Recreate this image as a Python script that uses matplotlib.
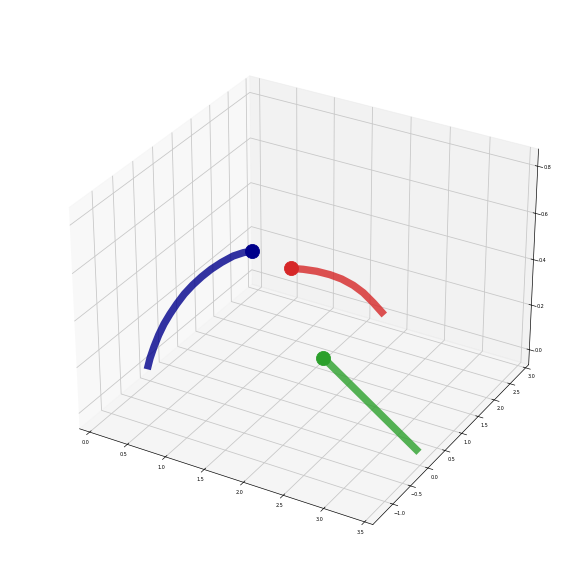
import matplotlib
matplotlib.use("Agg")
import matplotlib.pyplot as plt

blue_x = [0.016, 0.049, 0.087, 0.131, 0.190, 0.268, 0.326, 0.392, 0.478, 0.579, 0.665, 0.769, 0.890, 1.031, 1.148]
blue_y = [-0.096, -0.078, -0.038, 0.008, 0.041, 0.054, 0.123, 0.197, 0.253, 0.295, 0.371, 0.447, 0.512, 0.492, 0.478]
blue_z = [0.0, 0.05, 0.1, 0.15, 0.2, 0.25, 0.29, 0.33, 0.37, 0.41, 0.44, 0.47, 0.5, 0.53, 0.55]
red_x = [1.772, 1.716, 1.650, 1.565, 1.478, 1.388, 1.267, 1.163, 1.055]
red_y = [2.920, 2.705, 2.549, 2.439, 2.288, 2.143, 2.020, 1.861, 1.742]
red_z = [0.0, 0.08, 0.14, 0.18, 0.22, 0.25, 0.27, 0.29, 0.3]
green_x = [3.510, 1.629]
green_y = [-0.059, 1.428]
green_z = [0.0, 0.0]
x_ticks = [0.0, 0.5, 1.0, 1.5, 2.0, 2.5, 3.0, 3.5]
y_ticks = [-1.0, -0.5, 0.0, 0.5, 1.0, 1.5, 2.0, 2.5, 3.0]
z_ticks = [0.0, 0.2, 0.4, 0.6, 0.8]
colors = ["darkblue", "tab:red", "tab:green"]

fig = plt.figure(figsize=(10, 10), dpi=58.6)
ax = fig.add_axes([0.0535, 0.0486, 0.921, 0.891], projection="3d")
pos = ax.get_position()
ax.apply_aspect = lambda position=None: None
ax.set_position(pos)
for xs, ys, zs, c in zip([blue_x, red_x, green_x], [blue_y, red_y, green_y],
                         [blue_z, red_z, green_z], colors):
    ax.plot(xs, ys, zs, color=c, lw=9, alpha=0.8, solid_capstyle="butt", solid_joinstyle="round")
    ax.scatter(xs[-1], ys[-1], zs[-1], color=c, s=300, alpha=1, depthshade=False)
ax.set_xlim(-0.135, 3.6)
ax.set_ylim(-1.55, 3.1)
ax.set_zlim(-0.068, 0.872)
ax.set_xticks(x_ticks)
ax.set_yticks(y_ticks)
ax.set_zticks(z_ticks)
ax.tick_params(labelsize=6)
ax.tick_params(axis="x", pad=-1)
ax.tick_params(axis="y", pad=-1)
ax.tick_params(axis="z", pad=-1)
for a in (ax.xaxis, ax.yaxis, ax.zaxis):
    a._axinfo["grid"]["color"] = "#c8c8c8"
    a._axinfo["grid"]["linewidth"] = 1.0
fig.savefig("out.png")
